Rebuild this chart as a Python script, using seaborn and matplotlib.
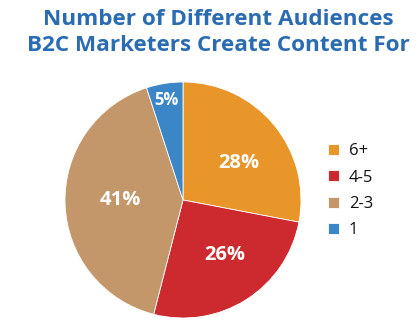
import matplotlib
matplotlib.use("Agg")
import matplotlib.pyplot as plt
import seaborn as sns
import numpy as np

categories = ["6+", "4-5", "2-3", "1"]
values = [28, 26, 41, 5]
colors = ["#E8952A", "#CD2A2F", "#C4976B", "#3B86C7"]

sns.set_theme(style="white")
plt.rcParams['font.family'] = ['Open Sans', 'DejaVu Sans']

fig = plt.figure(figsize=(4.2, 3.32), dpi=100)
W, H = 420, 332
cx, cy, r = 183, 200, 118
ax = fig.add_axes([(cx - r) / W, (H - cy - r) / H, 2 * r / W, 2 * r / H])

wedges, texts, autotexts = ax.pie(
    values, colors=colors, startangle=90, counterclock=False,
    autopct=lambda p: f"{p:.0f}%", pctdistance=0.6,
    wedgeprops=dict(linewidth=0.6, edgecolor="white"),
    textprops=dict(color="white", fontsize=14.5, fontweight="bold"))
ax.set_aspect("equal")
ax.set_xlim(-1, 1)
ax.set_ylim(-1, 1)

dist = [0.57, 0.585, 0.53, 0.86]
shift = [-6.1, 5.0, -1.8, 0.6]
sizes = [14.5, 14.5, 14.5, 12]
start = 90.0
total = sum(values)
for t, v, d, s, fs in zip(autotexts, values, dist, shift, sizes):
    ang = np.deg2rad(start - v / total * 180 + s)
    t.set_position((d * np.cos(ang), d * np.sin(ang)))
    t.set_fontsize(fs)
    start -= v / total * 360

fig.text(0.52, 0.94, "Number of Different Audiences", ha="center", va="center",
         fontsize=16.2, fontweight="bold", color="#2A6BB1")
fig.text(0.52, 0.863, "B2C Marketers Create Content For", ha="center", va="center",
         fontsize=16.2, fontweight="bold", color="#2A6BB1")

leg = fig.legend(wedges, categories, loc="center left", bbox_to_anchor=(0.745, 0.425),
                 frameon=False, fontsize=12, handlelength=0.65, handleheight=0.65,
                 labelspacing=0.62, handletextpad=0.6)
for t in leg.get_texts():
    t.set_color("#111111")

fig.savefig("out.png", dpi=100)
